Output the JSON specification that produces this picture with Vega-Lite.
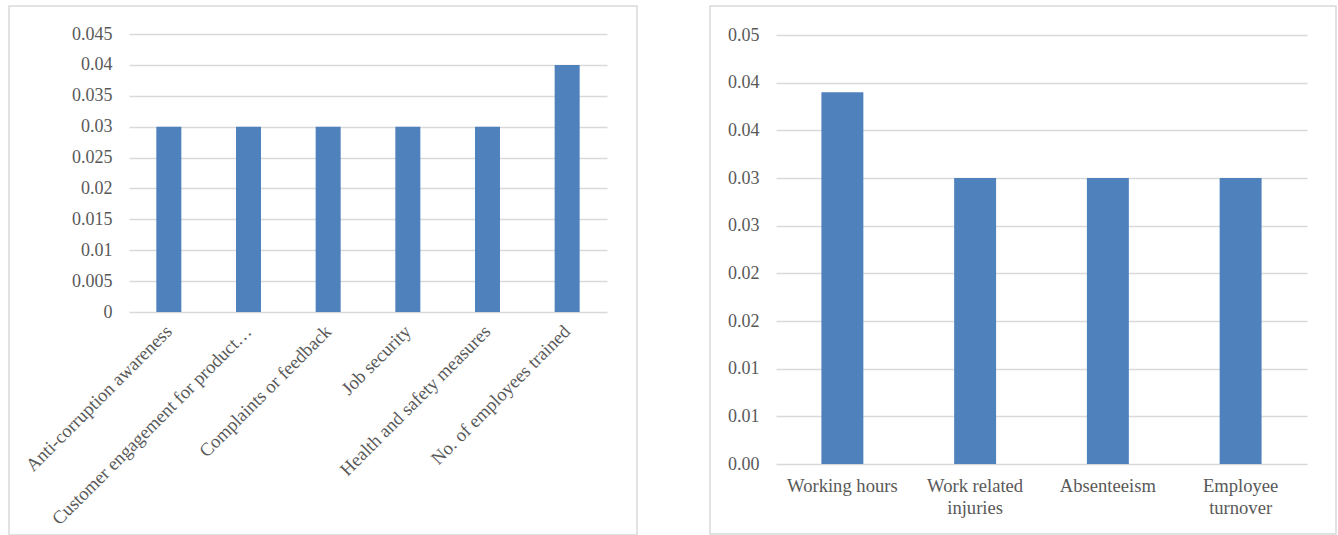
{
  "$schema": "https://vega.github.io/schema/vega-lite/v6.json",
  "padding": {"left": 8, "top": 5, "right": 0, "bottom": 0},
  "autosize": {"type": "pad"},
  "background": "white",
  "spacing": 71,
  "datasets": {
    "left": [
      {"category": "Anti-corruption awareness", "value": 0.03},
      {"category": "Customer engagement for product…", "value": 0.03},
      {"category": "Complaints or feedback", "value": 0.03},
      {"category": "Job security", "value": 0.03},
      {"category": "Health and safety measures", "value": 0.03},
      {"category": "No. of employees trained", "value": 0.04}
    ],
    "right": [
      {"category": "Working hours", "value": 0.039},
      {"category": "Work related injuries", "value": 0.03},
      {"category": "Absenteeism", "value": 0.03},
      {"category": "Employee turnover", "value": 0.03}
    ]
  },
  "config": {
    "view": {"stroke": "#d9d9d9", "strokeWidth": 1.5},
    "font": "Liberation Serif",
    "axis": {
      "labelFont": "Liberation Serif",
      "labelFontSize": 18,
      "labelColor": "#595959",
      "domain": false,
      "ticks": false,
      "tickSize": 0,
      "title": null,
      "gridColor": "#d9d9d9",
      "gridWidth": 1.5
    }
  },
  "hconcat": [
    {
      "width": 628,
      "height": 529,
      "data": {"name": "left"},
      "mark": {"type": "bar", "color": "#4f81bd"},
      "encoding": {
        "x": {
          "field": "category",
          "type": "nominal",
          "sort": null,
          "scale": {"range": [120, 598], "paddingInner": 0.686, "paddingOuter": 0.343},
          "axis": {"labelAngle": -45, "labelAlign": "right", "labelBaseline": "middle", "labelFontSize": 18.6, "offset": -223, "grid": false, "labelPadding": 16, "labelLimit": 500}
        },
        "y": {
          "field": "value",
          "type": "quantitative",
          "scale": {"domain": [0, 0.045], "range": [306, 28], "nice": false, "zero": true},
          "axis": {
            "values": [0, 0.005, 0.01, 0.015, 0.02, 0.025, 0.03, 0.035, 0.04, 0.045],
            "format": "~g",
            "offset": -120,
            "grid": true,
            "labelPadding": 17
          }
        }
      }
    },
    {
      "width": 626,
      "height": 528,
      "data": {"name": "right"},
      "mark": {"type": "bar", "color": "#4f81bd"},
      "encoding": {
        "x": {
          "field": "category",
          "type": "nominal",
          "sort": null,
          "scale": {"range": [66, 597], "paddingInner": 0.684, "paddingOuter": 0.342},
          "axis": {
            "labelAngle": 0,
            "labelFontSize": 18.6,
            "offset": -70,
            "grid": false,
            "labelPadding": 12,
            "labelLineHeight": 22,
            "labelLimit": 500,
            "labelExpr": "datum.label == 'Work related injuries' ? ['Work related', 'injuries'] : datum.label == 'Employee turnover' ? ['Employee', 'turnover'] : datum.label"
          }
        },
        "y": {
          "field": "value",
          "type": "quantitative",
          "scale": {"domain": [0, 0.045], "range": [458, 29], "nice": false, "zero": true},
          "axis": {
            "values": [0, 0.005, 0.01, 0.015, 0.02, 0.025, 0.03, 0.035, 0.04, 0.045],
            "labelExpr": "format(datum.value + 0.000001, '.2f')",
            "offset": -66,
            "grid": true,
            "labelPadding": 17
          }
        }
      }
    }
  ]
}
